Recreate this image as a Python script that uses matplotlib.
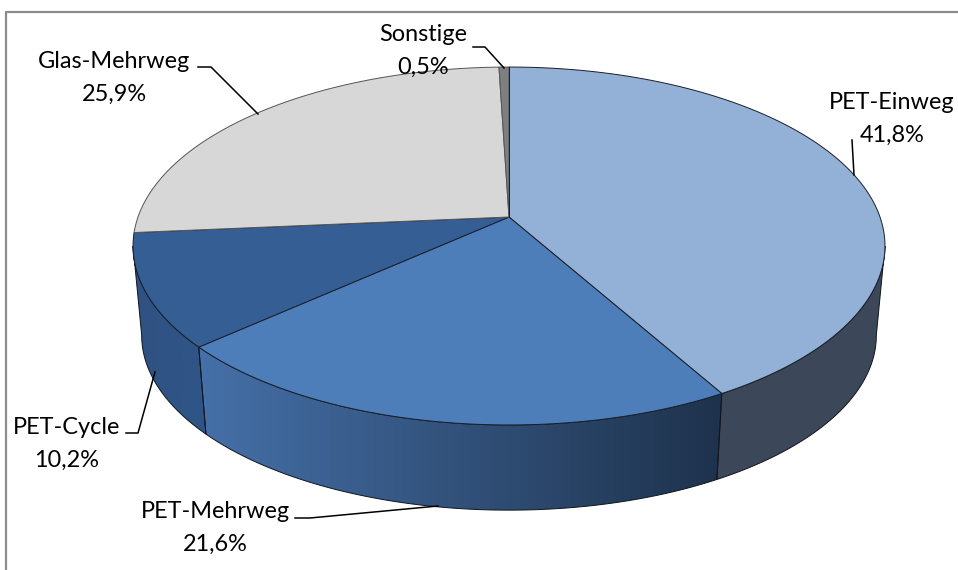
import numpy as np
import matplotlib
matplotlib.use('Agg')
import matplotlib.pyplot as plt
from matplotlib.colors import LinearSegmentedColormap
from matplotlib.patches import Polygon

plt.rcParams['font.family'] = ['Lato', 'DejaVu Sans']

names = ['PET-Einweg', 'PET-Mehrweg', 'PET-Cycle', 'Glas-Mehrweg', 'Sonstige']
values = [41.8, 21.6, 10.2, 25.9, 0.5]
top_colors = ['#93B0D6', '#4D7EBA', '#355F94', '#D7D7D7', '#7F7F7F']

# perspective of the 3d pie, in pixels of the picture
CX, CY = 509.0, 217.0
R = 371.0
C = 0.162
A = 139.1
SHRINK = 0.977
DROP = 90.0
# where the top rim has its left and right extremes
SIDE = np.degrees(np.arccos(-C))


def top_rim(deg):
    t = np.radians(deg)
    u, v = np.sin(t), np.cos(t)
    w = 1 + C * v
    return CX + R * u / w, (CY - A * v) / w


def low_rim(deg):
    x, y = top_rim(deg)
    return CX + SHRINK * (x - CX), CY + SHRINK * (y - CY) + DROP


def wall_poly(a, b):
    deg = np.linspace(a, b, 120)
    x1, y1 = top_rim(deg)
    x2, y2 = low_rim(deg)
    return np.column_stack([np.r_[x1, x2[::-1]], np.r_[y1, y2[::-1]]])


fig = plt.figure(figsize=(9.58, 5.70), dpi=100)
ax = fig.add_axes([0, 0, 1, 1])

edges = np.r_[0, np.cumsum(values)] * 3.6


def wall(a, b, left, right):
    pts = wall_poly(a, b)
    x0, x1 = pts[:, 0].min(), pts[:, 0].max()
    cmap = LinearSegmentedColormap.from_list('w', [left, right])
    im = ax.imshow(np.linspace(0, 1, 256).reshape(1, -1), cmap=cmap, aspect='auto',
                   extent=[x0, x1, pts[:, 1].max(), pts[:, 1].min()], zorder=2)
    p = Polygon(pts, closed=True, facecolor='none', edgecolor='#10151c', lw=0.7, zorder=3)
    ax.add_patch(p)
    im.set_clip_path(p)


# side walls, only the front part can be seen
wall(SIDE, edges[1], '#3C4859', '#3C4859')
wall(edges[1], edges[2], '#4570A8', '#1E324C')
wall(edges[2], 360 - SIDE, '#2F5282', '#2F5588')

# top faces
for i in range(len(values)):
    deg = np.linspace(edges[i], edges[i + 1], 200)
    x, y = top_rim(deg)
    pts = np.column_stack([np.r_[CX, x], np.r_[CY, y]])
    ax.add_patch(Polygon(pts, closed=True, facecolor=top_colors[i],
                         edgecolor='#1a1f28' if i < 3 else '#555555', lw=0.7, zorder=4))
x, y = top_rim(np.array([0.0, edges[1]]))
ax.plot([CX, x[0]], [CY, y[0]], color='#1a1f28', lw=0.7, zorder=5)

# frame, only left and top are inside the crop
ax.plot([6.5, 6.5, 958], [570, 11.5, 11.5], color='#8C8C8C', lw=1.6, zorder=1)

# leader lines
ax.plot([852, 854], [140, 175], color='black', lw=1.1, zorder=6)
ax.plot([295, 310, 438], [518, 518, 506], color='black', lw=1.1, zorder=6)
ax.plot([126, 138, 155], [433, 433, 372], color='black', lw=1.1, zorder=6)
ax.plot([198, 211, 258], [67, 67, 114], color='black', lw=1.1, zorder=6)
ax.plot([473, 485, 504], [47, 47, 68], color='black', lw=1.1, zorder=6)

# labels
label_x = [892, 215, 67, 114, 423]
label_y = [119, 528, 444, 78, 51]
for n, v, lx, ly in zip(names, values, label_x, label_y):
    txt = n + '\n' + f'{v:.1f}'.replace('.', ',') + '%'
    ax.text(lx, ly, txt, ha='center', va='center', fontsize=16.9, color='black',
            linespacing=1.68, zorder=7)

ax.set_xlim(0, 958)
ax.set_ylim(570, 0)
ax.axis('off')

fig.savefig('out.png', dpi=100)
